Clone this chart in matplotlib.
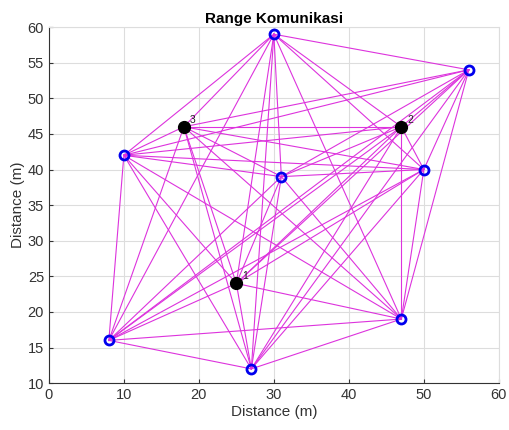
import itertools
import matplotlib
matplotlib.use('Agg')
import matplotlib.pyplot as plt

# sensor nodes (blue rings)
node_x = [30, 56, 10, 31, 50, 8, 27, 47]
node_y = [59, 54, 42, 39, 40, 16, 12, 19]

# numbered anchor nodes (black dots)
anchor_x = [25, 47, 18]
anchor_y = [24, 46, 46]
anchor_lbl = ['1', '2', '3']

x_ticks = [0, 10, 20, 30, 40, 50, 60]
y_ticks = [10, 15, 20, 25, 30, 35, 40, 45, 50, 55, 60]

plt.rcParams.update({'font.family': ['Liberation Sans', 'DejaVu Sans'], 'font.size': 9})

fig = plt.figure(figsize=(5.09, 4.30), dpi=100)
ax = fig.add_axes([0.096, 0.109, 0.884, 0.828])

all_x = node_x + anchor_x
all_y = node_y + anchor_y

# every pair is linked
for i, j in itertools.combinations(range(len(all_x)), 2):
    ax.plot([all_x[i], all_x[j]], [all_y[i], all_y[j]],
            color='#dd33dd', lw=0.8, zorder=2)

ax.plot(node_x, node_y, 'o', ms=6.5, mfc='none', mec='#0000ee', mew=2, zorder=4)
ax.plot(anchor_x, anchor_y, 'o', ms=8.5, color='black', zorder=5)
for x, y, s in zip(anchor_x, anchor_y, anchor_lbl):
    ax.text(x + 0.8, y + 0.6, s, fontsize=7.5, color='#222222', zorder=6)

ax.set_xlim(0, 60)
ax.set_ylim(10, 60)
ax.set_xticks(x_ticks)
ax.set_yticks(y_ticks)
ax.grid(True, color='#dddddd', lw=0.8)
ax.set_axisbelow(True)
for side in ['top', 'right']:
    ax.spines[side].set_color('#dddddd')
for side in ['bottom', 'left']:
    ax.spines[side].set_color('#333333')
ax.tick_params(direction='in', length=3, colors='#333333', labelsize=10.5)
ax.set_xlabel('Distance (m)', fontsize=11, color='#333333', labelpad=2)
ax.set_ylabel('Distance (m)', fontsize=11, color='#333333', labelpad=2)
ax.set_title('Range Komunikasi', fontsize=11, fontweight='bold', pad=3)

fig.savefig('out.png', dpi=100)
